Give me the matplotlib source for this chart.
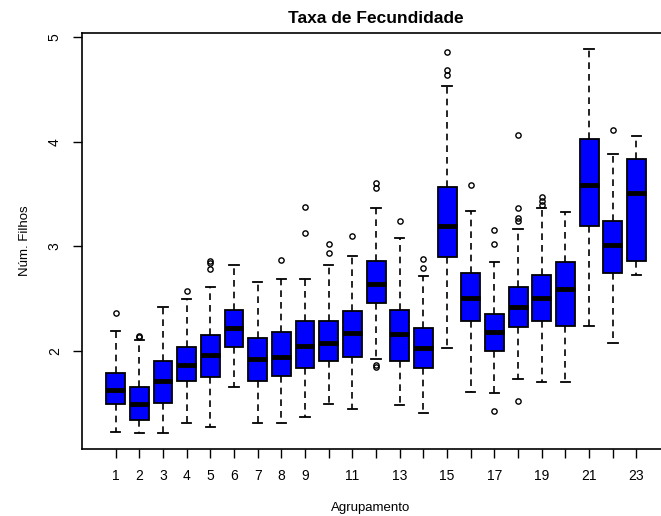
import matplotlib
matplotlib.use('Agg')
import matplotlib.pyplot as plt

# Taxa de fecundidade por agrupamento
groups = list(range(1, 24))
whisk_lo = [1.23, 1.22, 1.22, 1.31, 1.27, 1.66, 1.31, 1.31, 1.37, 1.49, 1.45, 1.92,
            1.48, 1.41, 2.03, 1.61, 1.60, 1.73, 1.70, 1.70, 2.24, 2.08, 2.73]
q1 = [1.49, 1.34, 1.50, 1.71, 1.75, 2.04, 1.71, 1.76, 1.84, 1.90, 1.94, 2.46,
      1.90, 1.84, 2.90, 2.29, 2.00, 2.23, 2.29, 2.24, 3.20, 2.75, 2.86]
medians = [1.63, 1.49, 1.71, 1.87, 1.96, 2.22, 1.92, 1.94, 2.05, 2.08, 2.17, 2.64,
           2.16, 2.03, 3.20, 2.51, 2.18, 2.42, 2.51, 2.59, 3.59, 3.01, 3.51]
q3 = [1.79, 1.66, 1.90, 2.04, 2.15, 2.39, 2.12, 2.18, 2.29, 2.29, 2.38, 2.86,
      2.39, 2.22, 3.57, 2.75, 2.35, 2.61, 2.73, 2.85, 4.03, 3.24, 3.84]
whisk_hi = [2.19, 2.11, 2.42, 2.50, 2.61, 2.82, 2.66, 2.69, 2.69, 2.82, 2.91, 3.37,
            3.08, 2.72, 4.53, 3.34, 2.85, 3.17, 3.37, 3.33, 4.89, 3.88, 4.06]
outliers = [[2.36], [2.14, 2.13], [], [2.57], [2.86, 2.84, 2.78], [], [], [2.87],
            [3.38, 3.13], [3.02, 2.94], [3.10], [3.61, 3.56, 1.87, 1.85],
            [3.24], [2.88, 2.79], [4.86, 4.69, 4.64], [3.59], [3.16, 3.02, 1.43],
            [4.07, 3.37, 3.27, 3.24, 1.52], [3.47, 3.43, 3.40], [], [], [4.11], []]
tick_labels = ['1', '2', '3', '4', '5', '6', '7', '8', '9', '', '11', '', '13', '',
               '15', '', '17', '', '19', '', '21', '', '23']

plt.rcParams['font.family'] = ['Liberation Sans', 'DejaVu Sans']

fig = plt.figure(figsize=(6.61, 5.16), dpi=100)
ax = fig.add_axes([0.1241, 0.1298, 0.8896, 0.8062])

stats = []
for i in range(len(groups)):
    stats.append({'whislo': whisk_lo[i], 'q1': q1[i], 'med': medians[i],
                  'q3': q3[i], 'whishi': whisk_hi[i], 'fliers': outliers[i]})

ax.bxp(stats, positions=groups, widths=0.8, patch_artist=True,
       boxprops=dict(facecolor='#0000ff', edgecolor='black', linewidth=1.3),
       medianprops=dict(color='black', linewidth=3.5, solid_capstyle='butt'),
       whiskerprops=dict(color='black', linewidth=1.2, linestyle=(0, (4, 3))),
       capprops=dict(color='black', linewidth=1.3),
       flierprops=dict(marker='o', markerfacecolor='none', markeredgecolor='black',
                       markersize=3.8, markeredgewidth=1.0))

ax.set_xlim(-0.42, 24.42)
ax.set_ylim(1.063, 5.041)
ax.set_xticks(groups)
ax.set_xticklabels(tick_labels)
ax.set_yticks([2, 3, 4, 5])
ax.set_yticklabels(['2', '3', '4', '5'], rotation=90, va='center')
ax.tick_params(length=6.5, width=1.0, labelsize=10, pad=8)

for sp in ax.spines.values():
    sp.set_linewidth(1.2)

ax.set_title('Taxa de Fecundidade', fontsize=12.5, fontweight='bold', pad=7)
ax.set_xlabel('Agrupamento', fontsize=9.5)
ax.xaxis.set_label_coords(0.49, -0.142)
ax.xaxis.label.set_va('center')
ax.set_ylabel('Núm. Filhos', fontsize=9.5)
ax.yaxis.set_label_coords(-0.097, 0.5)
ax.yaxis.label.set_va('center')

fig.savefig('out.png', dpi=100)
